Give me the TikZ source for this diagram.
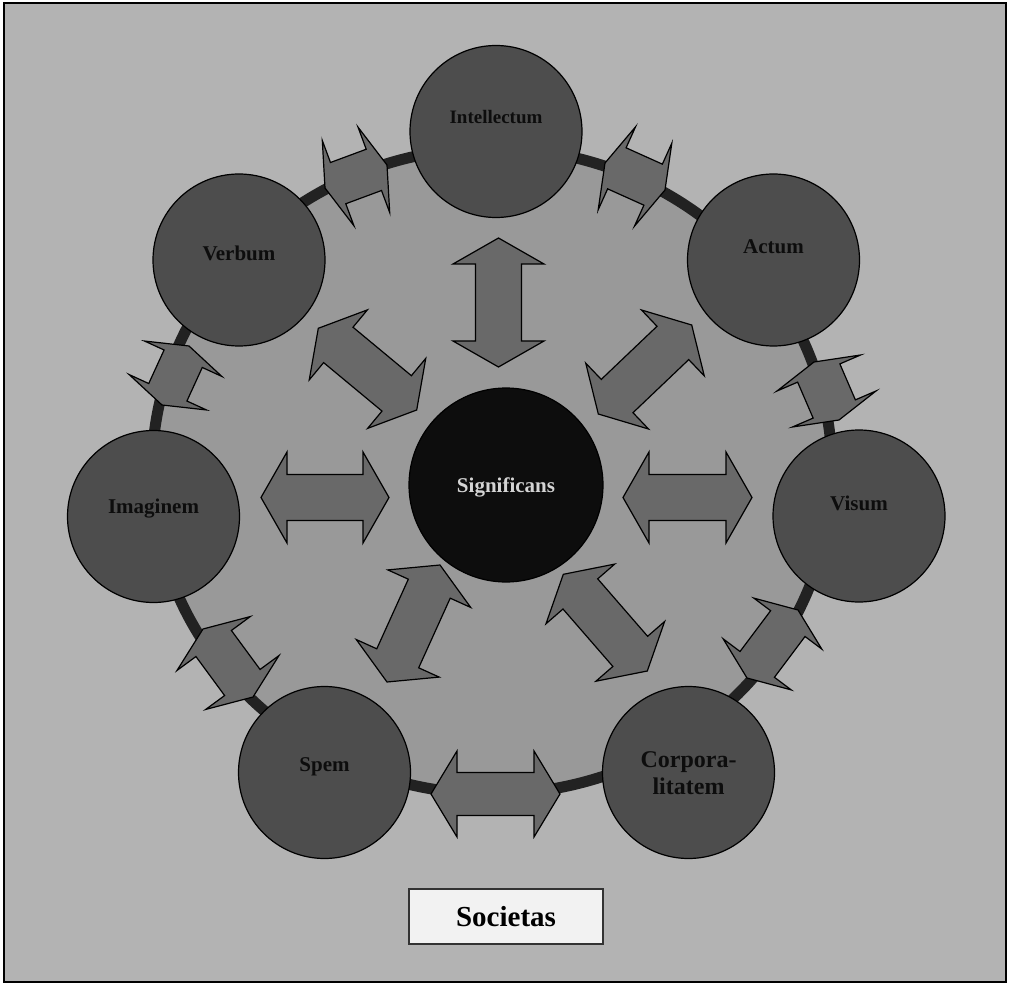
\documentclass[tikz,border=0pt]{standalone}
\usepackage{fontspec}
\setmainfont{Liberation Serif}
\usetikzlibrary{calc}
\definecolor{bgout}{HTML}{B3B3B3}
\definecolor{bgin}{HTML}{999999}
\definecolor{ringc}{HTML}{222222}
\definecolor{nodec}{HTML}{4D4D4D}
\definecolor{arrc}{HTML}{696969}
\definecolor{sigc}{HTML}{0D0D0D}
\definecolor{sigt}{HTML}{D4D4D4}
\definecolor{boxc}{HTML}{F2F2F2}
% double block arrow between tip coordinates #1 and #2
% #3 head length, #4 half head width, #5 half shaft width
\newcommand\dblarrow[5]{%
  \draw[blockarr] (#1)
    -- ($($(#1)!#3!(#2)$)!#4!90:(#2)$)
    -- ($($(#1)!#3!(#2)$)!#5!90:(#2)$)
    -- ($($(#2)!#3!(#1)$)!#5!-90:(#1)$)
    -- ($($(#2)!#3!(#1)$)!#4!-90:(#1)$)
    -- (#2)
    -- ($($(#2)!#3!(#1)$)!#4!90:(#1)$)
    -- ($($(#2)!#3!(#1)$)!#5!90:(#1)$)
    -- ($($(#1)!#3!(#2)$)!#5!-90:(#2)$)
    -- ($($(#1)!#3!(#2)$)!#4!-90:(#2)$)
    -- cycle;}
\begin{document}
\begin{tikzpicture}[x=1pt,y=-1pt,
  outer/.style={circle, draw=black, line width=1.2pt, fill=nodec, minimum size=172pt, inner sep=0pt},
  lab/.style={font=\fontsize{21}{24}\selectfont\bfseries, text=black!95, inner sep=0pt, align=center},
  blockarr/.style={draw=black, line width=1.2pt, fill=arrc, line join=miter},
]
\useasboundingbox (0,0) rectangle (1010,984);
\fill[white] (0,0) rectangle (1010,984);
\draw[black, line width=1.5pt, fill=bgout] (4,3) rectangle (1006,982);
% ring
\draw[ringc, line width=11pt, fill=bgin] (492,471) ellipse [x radius=340, y radius=323];

% nodes
\node[outer] (intellectum) at (496,131.5) {};
\node[outer] (actum) at (773.5,260) {};
\node[outer] (visum) at (859,516) {};
\node[outer] (corp) at (688.5,772.5) {};
\node[outer] (spem) at (324.5,772.5) {};
\node[outer] (imaginem) at (153.5,516.5) {};
\node[outer] (verbum) at (239,260) {};
\node[circle, draw=black, line width=1.2pt, fill=sigc, minimum size=194pt, inner sep=0pt] (significans) at (506,485) {};

\node[lab, font=\fontsize{19}{22}\selectfont\bfseries] (intellectum-t) at ($(intellectum)+(0,-14)$) {Intellectum};
\node[lab] (actum-t) at ($(actum)+(0,-13)$) {Actum};
\node[lab] (visum-t) at ($(visum)+(0,-13)$) {Visum};
\node[lab, font=\fontsize{24}{27}\selectfont\bfseries] (corp-t) at ($(corp)+(0,1)$) {Corpora-\\litatem};
\node[lab] (spem-t) at ($(spem)+(0,-6)$) {Spem};
\node[lab] (imaginem-t) at ($(imaginem)+(0,-8)$) {Imaginem};
\node[lab] (verbum-t) at ($(verbum)+(0,-7)$) {Verbum};
\node[lab, text=sigt] (significans-t) at ($(significans)+(0,2)$) {Significans};

% ring arrows tips
\coordinate (r1a) at (325,188);   \coordinate (r1b) at (387,165);
\coordinate (r2a) at (605,163);   \coordinate (r2b) at (665,190);
\coordinate (r3a) at (814,362);   \coordinate (r3b) at (839,420);
\coordinate (r4a) at (798,610);   \coordinate (r4b) at (747,678);
\coordinate (r5a) at (560,794);   \coordinate (r5b) at (431,794);
\coordinate (r6a) at (253,697);   \coordinate (r6b) at (203,629);
\coordinate (r7a) at (162,405);   \coordinate (r7b) at (189,346);
\dblarrow{r1a}{r1b}{14pt}{45.5pt}{22pt}
\dblarrow{r2a}{r2b}{13pt}{45.5pt}{22.5pt}
\dblarrow{r3a}{r3b}{12pt}{45.5pt}{23pt}
\dblarrow{r4a}{r4b}{17pt}{42.5pt}{21.5pt}
\dblarrow{r5a}{r5b}{26pt}{43pt}{21.5pt}
\dblarrow{r6a}{r6b}{18pt}{45.5pt}{22pt}
\dblarrow{r7a}{r7b}{14pt}{42.5pt}{21pt}

% inner arrows tips
\coordinate (i1a) at (498.5,238);  \coordinate (i1b) at (498.5,367);
\coordinate (i2a) at (691.7,325);  \coordinate (i2b) at (598.3,414);
\coordinate (i3a) at (623,497.5);  \coordinate (i3b) at (752,497.5);
\coordinate (i4a) at (563.3,574.3);\coordinate (i4b) at (647.3,671);
\coordinate (i5a) at (440,565);    \coordinate (i5b) at (387,682);
\coordinate (i6a) at (261,497.5);  \coordinate (i6b) at (389,497.5);
\coordinate (i7a) at (318.3,328.3);\coordinate (i7b) at (416.7,410);
\foreach \k in {1,...,7}{\dblarrow{i\k a}{i\k b}{26pt}{45.5pt}{23pt}}

% Societas box
\node[draw=black!80, line width=1.5pt, fill=boxc, minimum width=194pt, minimum height=55pt,
      inner sep=0pt, font=\fontsize{29}{32}\selectfont\bfseries] (societas) at (506,916.5) {Societas};
\end{tikzpicture}
\end{document}
